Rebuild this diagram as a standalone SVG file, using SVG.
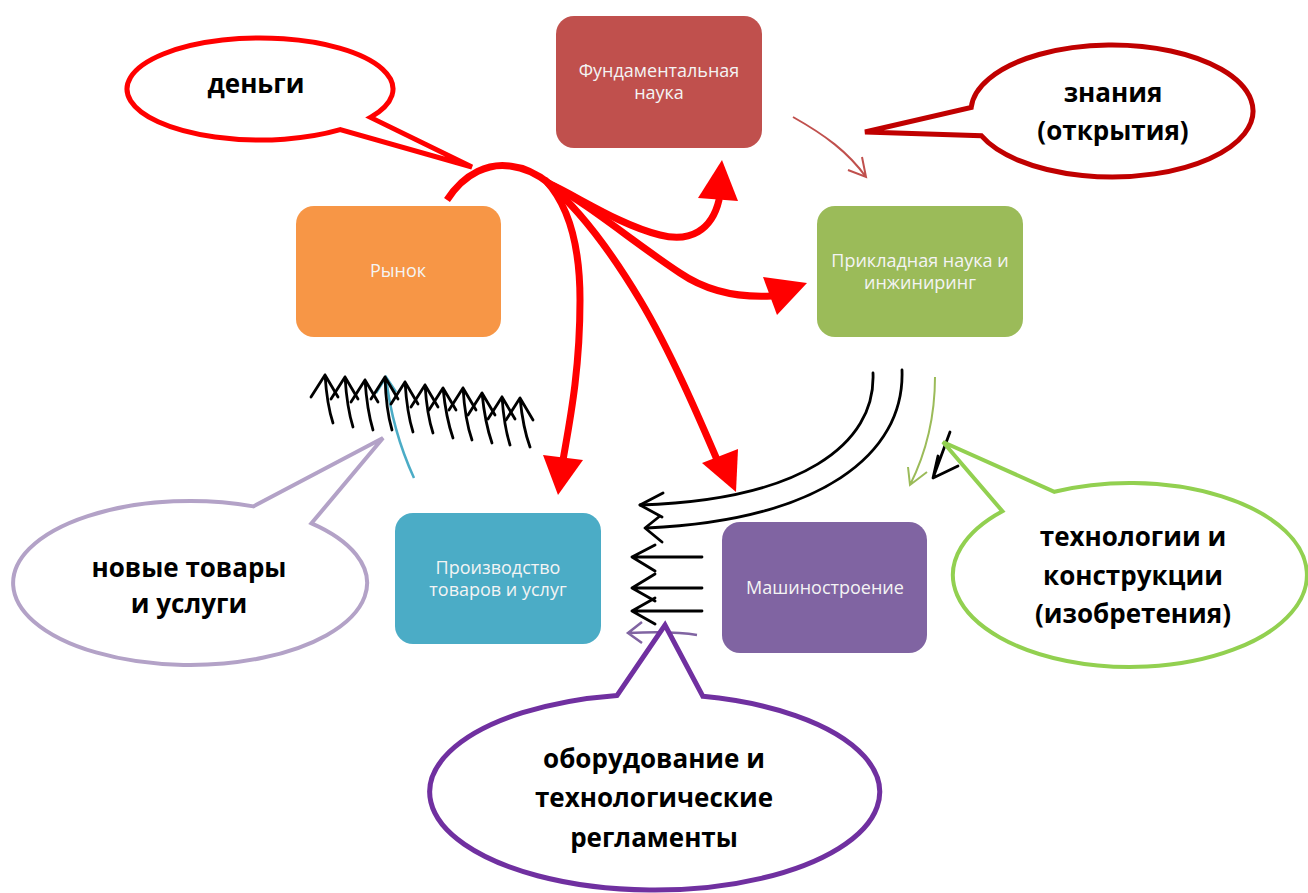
<svg xmlns="http://www.w3.org/2000/svg" width="1308" height="893" viewBox="0 0 1308 893">
<style>
.box text{font-family:"Open Sans","Liberation Sans",sans-serif;font-size:18px;fill:#f4f4f4;text-anchor:middle}
.co text{font-family:"Open Sans","Liberation Sans",sans-serif;font-size:26px;font-weight:bold;fill:#000;text-anchor:middle}
.co path{fill:#fff;stroke-linejoin:miter}
.red{fill:none;stroke:#ff0000;stroke-width:7;stroke-linecap:round}
.redhead{fill:#ff0000}
.blk{fill:none;stroke:#000;stroke-width:2.8;stroke-linecap:round;stroke-linejoin:round}
</style>
<rect width="1308" height="893" fill="#fff"/>

<g id="node-fund" class="box">
<rect x="556" y="16" width="206" height="132" rx="18" fill="#C0504D"/>
<text x="659" y="77">Фундаментальная</text>
<text x="659" y="99">наука</text>
</g>
<g id="node-market" class="box">
<rect x="296" y="206" width="205" height="131" rx="18" fill="#F79646"/>
<text x="398" y="277">Рынок</text>
</g>
<g id="node-applied" class="box">
<rect x="817" y="206" width="206" height="131" rx="18" fill="#9BBB59"/>
<text x="920" y="267">Прикладная наука и</text>
<text x="920" y="289">инжиниринг</text>
</g>
<g id="node-production" class="box">
<rect x="395" y="513" width="206" height="131" rx="18" fill="#4BACC6"/>
<text x="498" y="574">Производство</text>
<text x="498" y="596">товаров и услуг</text>
</g>
<g id="node-machine" class="box">
<rect x="722" y="522" width="205" height="131" rx="18" fill="#8064A2"/>
<text x="825" y="594">Машиностроение</text>
</g>

<g id="connectors">
<!-- red money flows -->
<path class="red" style="stroke-linecap:butt" d="M447,200 C465,172 490,163 510,166 C528,168 540,176 550,184"/>
<path class="red" d="M550,184 C580,198 620,225 660,235 C690,243 712,230 719,200"/>
<polygon class="redhead" points="722,160 698,198 738,201"/>
<path class="red" d="M550,184 C590,205 630,240 680,273 C705,290 735,298 772,296"/>
<polygon class="redhead" points="807,283 763,277 777,315"/>
<path class="red" d="M546,181 C568,205 580,245 580,300 C580,370 570,420 563,460"/>
<polygon class="redhead" points="558,495 543,455 583,460"/>
<path class="red" d="M548,183 C580,210 610,250 640,300 C670,350 700,420 718,462"/>
<polygon class="redhead" points="736,492 702,463 738,449"/>

<!-- thin fundamental -> applied -->
<path d="M793,117 C825,135 848,152 866,177 M848,170 L866,177 L862,157" fill="none" stroke="#C0504D" stroke-width="2"/>
<!-- green thin -->
<path d="M935,377 C935,420 925,455 910,485 M908,467 L910,485 L927,472" fill="none" stroke="#9BBB59" stroke-width="2"/>
<!-- black small -->
<path class="blk" d="M950,432 L933,478 L958,466 M933,478 L938,456"/>

<!-- big black curves to production -->
<path class="blk" d="M902,370 C905,455 820,520 647,528"/>
<path class="blk" d="M873,373 C876,445 800,500 640,505"/>
<path class="blk" d="M663,493 L640,505 L662,517 M660,516 L645,528 L662,542 M655,545 L632,557 L655,571 M702,557 L632,557 M655,574 L632,588 L655,601 M702,588 L632,588 M655,598 L632,611 L655,624 M702,611 L632,611"/>

<!-- purple thin -->
<path d="M697,635 C680,632 650,632 628,633 M642,622 L628,633 L642,643" fill="none" stroke="#8064A2" stroke-width="2.5"/>

<!-- cyan thin -->
<path d="M414,478 Q392,430 386,377 M376,393 L386,377 L396,392" fill="none" stroke="#4BACC6" stroke-width="2.5"/>

<!-- black arrows above market -->
<g class="blk">
<path d="M325,375 Q327,405 333,423 M311,397 L325,375 L338,397"/>
<path d="M345,377 Q347,408 353,427 M331,399 L345,377 L358,399"/>
<path d="M365,380 Q367,410 373,430 M351,402 L365,380 L378,402"/>
<path d="M385,377 Q386,410 392,430 M371,399 L385,377 L398,399"/>
<path d="M405,382 Q407,413 413,432 M391,404 L405,382 L418,404"/>
<path d="M425,385 Q427,415 433,433 M411,407 L425,385 L438,407"/>
<path d="M443,388 Q446,418 453,438 M429,410 L443,388 L456,410"/>
<path d="M463,388 Q465,420 472,440 M449,410 L463,388 L476,410"/>
<path d="M482,393 Q485,423 492,443 M468,415 L482,393 L495,415"/>
<path d="M502,397 Q504,426 510,445 M488,419 L502,397 L515,419"/>
<path d="M520,398 Q523,428 530,447 M506,420 L520,398 L533,420"/>
</g>
</g>

<g id="callout-money" class="co">
<path d="M370.5,117.4 A133,51 0 1 0 340.2,129.7 L472,167 Z" stroke="#ff0000" stroke-width="5"/>
<text x="256" y="93">деньги</text>
</g>
<g id="callout-knowledge" class="co">
<path d="M971.2,107.5 A141,66 0 1 1 981.3,135.7 L865,132 Z" stroke="#C00000" stroke-width="5"/>
<text x="1113" y="102">знания</text>
<text x="1113" y="140">(открытия)</text>
</g>
<g id="callout-goods" class="co">
<path d="M253.4,506.4 A177,82 0 1 0 311.5,523.3 L383,438 Z" stroke="#B3A2C7" stroke-width="4"/>
<text x="189" y="577">новые товары</text>
<text x="189" y="613">и услуги</text>
</g>
<g id="callout-tech" class="co">
<path d="M1054.4,491.8 A177,92 0 1 1 1002.4,511.2 L943,442 Z" stroke="#92D050" stroke-width="4"/>
<text x="1133" y="546">технологии и</text>
<text x="1133" y="585">конструкции</text>
<text x="1133" y="623">(изобретения)</text>
</g>
<g id="callout-equipment" class="co">
<path d="M617.1,695.4 A225,98 0 1 0 702.9,696.3 L665,625 Z" stroke="#7030A0" stroke-width="5"/>
<text x="654" y="768">оборудование и</text>
<text x="654" y="807">технологические</text>
<text x="654" y="847">регламенты</text>
</g>
</svg>
